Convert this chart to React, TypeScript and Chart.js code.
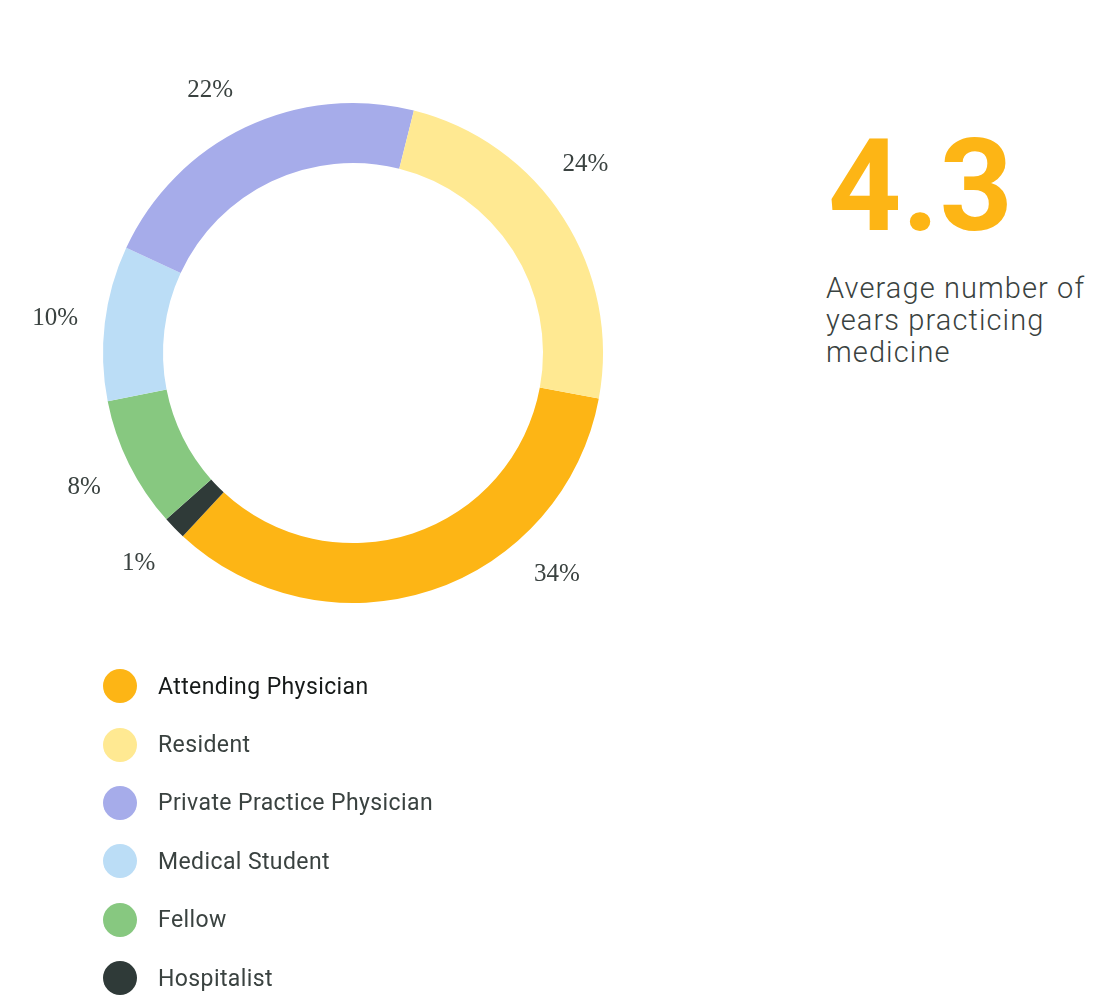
import React, { useEffect, useRef } from "react";
import { Chart, registerables } from "chart.js";

Chart.register(...registerables);

// Slices in clockwise drawing order (starting from Attending Physician)
const categories = [
  "Attending Physician",
  "Hospitalist",
  "Fellow",
  "Medical Student",
  "Private Practice Physician",
  "Resident",
];
const shares = [34, 1.5, 8.5, 10, 22, 24];
const shareLabels = ["34%", "1%", "8%", "10%", "22%", "24%"];
const sliceColors = ["#FDB515", "#2F3A38", "#87C880", "#BBDDF6", "#A6ACEA", "#FFE992"];

// Legend order as shown below the chart
const legendOrder = [
  "Attending Physician",
  "Resident",
  "Private Practice Physician",
  "Medical Student",
  "Fellow",
  "Hospitalist",
];

const headlineValue = "4.3";
const headlineCaption = ["Average number of", "years practicing", "medicine"];

const LABEL_FONT = "25px 'Liberation Serif', 'DejaVu Serif', serif";

const outsideLabels = {
  id: "outsideLabels",
  afterDatasetsDraw(chart: any) {
    const ctx = chart.ctx;
    const meta = chart.getDatasetMeta(0);
    ctx.save();
    ctx.font = LABEL_FONT;
    ctx.fillStyle = "#3A4240";
    ctx.textAlign = "center";
    ctx.textBaseline = "middle";
    meta.data.forEach((arc: any, i: number) => {
      const p = arc.getProps(["x", "y", "startAngle", "endAngle", "outerRadius"], true);
      const span = p.endAngle - p.startAngle;
      const a = p.startAngle + Math.min(span / 2, 0.64);
      const r = p.outerRadius + 50;
      ctx.fillText(shareLabels[i], p.x + Math.cos(a) * r, p.y + Math.sin(a) * r + 1);
    });
    ctx.restore();
  },
};

export default function App() {
  const canvasRef = useRef<HTMLCanvasElement | null>(null);

  useEffect(() => {
    if (!canvasRef.current) return;
    const chart = new Chart(canvasRef.current, {
      type: "doughnut",
      data: {
        labels: categories,
        datasets: [
          {
            data: shares,
            backgroundColor: sliceColors,
            borderWidth: 0,
            hoverOffset: 0,
            offset: 0,
          },
        ],
      },
      options: {
        animation: false,
        responsive: true,
        maintainAspectRatio: false,
        cutout: "76%",
        rotation: 100.5,
        layout: { padding: 103 },
        plugins: {
          legend: { display: false },
          tooltip: { enabled: false },
        },
        events: [],
      },
      plugins: [outsideLabels],
    });
    return () => chart.destroy();
  }, []);

  const colorOf = (name: string) => sliceColors[categories.indexOf(name)];

  return (
    <div
      style={{
        position: "absolute",
        left: 0,
        top: 0,
        width: 1096,
        height: 995,
        background: "#ffffff",
        overflow: "hidden",
        fontFamily: "Roboto, 'Noto Sans', sans-serif",
      }}
    >
      <div style={{ position: "absolute", left: 0, top: 0, width: 706, height: 706 }}>
        <canvas ref={canvasRef} />
      </div>

      <div
        style={{
          position: "absolute",
          left: 828,
          top: 122,
          fontSize: 128,
          lineHeight: "128px",
          fontWeight: 700,
          color: "#FDB515",
          letterSpacing: 0.5,
          whiteSpace: "nowrap",
        }}
      >
        {headlineValue}
      </div>

      <div
        style={{
          position: "absolute",
          left: 826,
          top: 272,
          fontSize: 29,
          lineHeight: "32px",
          fontWeight: 300,
          color: "#3A4240",
          letterSpacing: 1.1,
          whiteSpace: "nowrap",
        }}
      >
        {headlineCaption.map((l) => (
          <div key={l}>{l}</div>
        ))}
      </div>

      <div style={{ position: "absolute", left: 103, top: 657 }}>
        {legendOrder.map((name, i) => (
          <div
            key={name}
            style={{ display: "flex", alignItems: "center", height: 58.4 }}
          >
            <div
              style={{
                width: 34,
                height: 34,
                borderRadius: "50%",
                background: colorOf(name),
                flex: "0 0 auto",
              }}
            />
            <div
              style={{
                marginLeft: 21,
                fontSize: 23,
                color: i === 0 ? "#161A19" : "#3A4240",
                whiteSpace: "nowrap",
                letterSpacing: 0.4,
              }}
            >
              {name}
            </div>
          </div>
        ))}
      </div>
    </div>
  );
}
